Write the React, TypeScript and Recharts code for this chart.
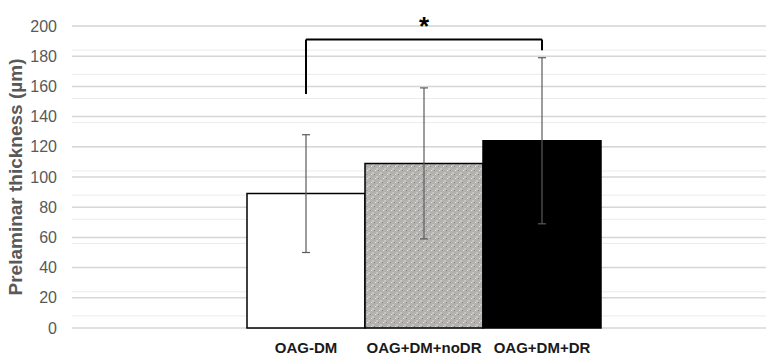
import React from "react";
import {
  BarChart,
  Bar,
  XAxis,
  YAxis,
  CartesianGrid,
  ErrorBar,
  Cell,
  ReferenceLine,
} from "recharts";

const categories = ["OAG-DM", "OAG+DM+noDR", "OAG+DM+DR"];
const means = [89, 109, 124];
const errors = [39, 50, 55];
const yTicks = [0, 20, 40, 60, 80, 100, 120, 140, 160, 180, 200];
const fills = ["#ffffff", "url(#dotPattern)", "#000000"];

const bracketLeftBottom = 155;
const bracketTop = 191;
const bracketRightBottom = 184;

const data = categories.map((name, i) => ({ name, value: means[i], err: errors[i] }));

const minorValues = Array.from({ length: 51 }, (_, i) => i * 4);

const FONT = "Liberation Sans, Arial, sans-serif";

export default function App() {
  return (
    <div style={{ position: "absolute", left: 0, top: 0, background: "#fff" }}>
      <BarChart
        width={766}
        height={356}
        data={data}
        margin={{ top: 26, right: 0, bottom: 0, left: 0 }}
        barCategoryGap={0}
      >
        <defs>
          <pattern id="dotPattern" width="8" height="8" patternUnits="userSpaceOnUse">
            <rect width="8" height="8" fill="#b4b2af" />
            <rect x="0" y="0" width="2" height="2" fill="#c9c7c4" />
            <rect x="4" y="4" width="2" height="2" fill="#c9c7c4" />
            <rect x="2" y="2" width="1" height="1" fill="#8c8a88" />
            <rect x="6" y="6" width="1" height="1" fill="#8c8a88" />
            <rect x="3" y="6" width="1" height="1" fill="#e8e8e8" />
            <rect x="7" y="2" width="1" height="1" fill="#e8e8e8" />
          </pattern>
        </defs>
        <CartesianGrid
          vertical={false}
          horizontalValues={minorValues}
          stroke="#ebebeb"
          strokeWidth={1}
        />
        <CartesianGrid
          vertical={false}
          horizontalValues={yTicks}
          stroke="#d6d6d6"
          strokeWidth={1.5}
        />
        <XAxis
          dataKey="name"
          axisLine={false}
          tickLine={false}
          height={28}
          tickSize={6}
          tickMargin={8}
          padding={{ left: 175, right: 165 }}
          tick={{ fill: "#1a1a1a", fontSize: 15, fontWeight: "bold", fontFamily: FONT }}
          interval={0}
        />
        <YAxis
          domain={[0, 200]}
          ticks={yTicks}
          axisLine={false}
          tickLine={false}
          width={72}
          tickSize={6}
          tickMargin={9}
          tick={{ fill: "#595959", fontSize: 16, fontFamily: FONT }}
          label={{
            value: "Prelaminar thickness (µm)",
            angle: -90,
            position: "insideLeft",
            dx: 10,
            dy: 0,
            style: { fill: "#595959", fontSize: 19, fontWeight: "bold", fontFamily: FONT, textAnchor: "middle" },
          }}
        />
        <Bar dataKey="value" isAnimationActive={false} stroke="#000" strokeWidth={1.5}>
          {data.map((d, i) => (
            <Cell key={d.name} fill={fills[i]} />
          ))}
          <ErrorBar dataKey="err" width={4} stroke="#5a5a5a" strokeWidth={1.2} isAnimationActive={false} />
        </Bar>
        <ReferenceLine
          segment={[
            { x: categories[0], y: bracketLeftBottom },
            { x: categories[0], y: bracketTop },
          ]}
          stroke="#000"
          strokeWidth={2}
        />
        <ReferenceLine
          segment={[
            { x: categories[0], y: bracketTop },
            { x: categories[2], y: bracketTop },
          ]}
          stroke="#000"
          strokeWidth={2}
          label={{
            value: "*",
            position: "top",
            offset: 5,
            style: { fill: "#000", fontSize: 26, fontWeight: "bold", fontFamily: FONT },
          }}
        />
        <ReferenceLine
          segment={[
            { x: categories[2], y: bracketTop },
            { x: categories[2], y: bracketRightBottom },
          ]}
          stroke="#000"
          strokeWidth={2}
        />
      </BarChart>
    </div>
  );
}
